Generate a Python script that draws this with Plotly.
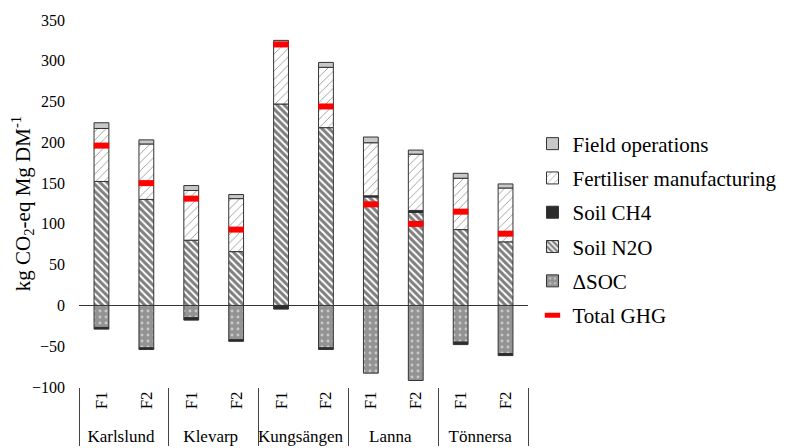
import plotly.graph_objects as go

sites = ["Karlslund", "Karlslund", "Klevarp", "Klevarp", "Kungsängen", "Kungsängen",
         "Lanna", "Lanna", "Tönnersa", "Tönnersa"]
treat = ["F1", "F2"] * 5

field_ops = [7, 5, 6, 5, 5, 6, 7, 5, 6, 5]
fertiliser = [65, 68, 61, 65, 73, 74, 65, 69, 63, 66]
soil_ch4 = [-2, -2, -3, -2, -4, -2, 1.5, 2.5, -3, -2.5]
soil_n2o = [152, 130, 80, 66, 247, 218, 133, 114, 93, 78]
delta_soc = [-27, -52, -15, -42, -0.5, -52, -83, -92, -45, -59]
total_ghg = [196, 150, 131, 93, 320, 244, 124, 100, 115, 88]

x = [sites, treat]
FONT = "Liberation Serif, Times New Roman, serif"
outline = dict(color="#333333", width=1)

fig = go.Figure()
fig.add_trace(go.Bar(x=x, y=delta_soc, name="ΔSOC", legendrank=5,
                     marker=dict(color="#939393", line=outline,
                                 pattern=dict(shape=".", fgcolor="#ffffff", size=6, solidity=0.18))))
fig.add_trace(go.Bar(x=x, y=soil_n2o, name="Soil N2O", legendrank=4,
                     marker=dict(color="#ffffff", line=outline,
                                 pattern=dict(shape="\\", fgcolor="#000000", size=5, solidity=0.6))))
fig.add_trace(go.Bar(x=x, y=soil_ch4, name="Soil CH4", legendrank=3,
                     marker=dict(color="#2b2b2b", line=outline)))
fig.add_trace(go.Bar(x=x, y=fertiliser, name="Fertiliser manufacturing", legendrank=2,
                     marker=dict(color="#ffffff", line=outline,
                                 pattern=dict(shape="/", fgcolor="#333333", size=6, solidity=0.15))))
fig.add_trace(go.Bar(x=x, y=field_ops, name="Field operations", legendrank=1,
                     marker=dict(color="#c8c8c8", line=outline)))
fig.add_trace(go.Scatter(x=x, y=total_ghg, name="Total GHG", mode="markers", legendrank=6,
                         marker=dict(symbol="line-ew", size=11, color="#ff0000",
                                     line=dict(color="#ff0000", width=6))))

for i, tr in enumerate(fig.data):
    tr.legendgroup = "g%d" % i

# the page body has an 8px default margin, so the figure is sized to fit the window
fig.update_layout(
    width=777, height=440,
    margin=dict(l=71, r=257, t=12, b=61, autoexpand=False),
    barmode="relative", bargap=0.67,
    plot_bgcolor="white", paper_bgcolor="white",
    font=dict(family=FONT, size=17, color="black"),
    showlegend=True,
    legend=dict(x=1.01, y=0.718, xanchor="left", yanchor="top",
                font=dict(family=FONT, size=21, color="black"),
                tracegroupgap=4, itemwidth=30, bgcolor="rgba(0,0,0,0)"),
    xaxis=dict(type="multicategory", showline=False, ticks="", tickangle=-90,
               range=[-0.5, 9.5], automargin=False,
               showdividers=True, dividercolor="#444444", dividerwidth=1.2,
               tickfont=dict(family=FONT, size=17, color="black")),
    yaxis=dict(range=[-100, 350], dtick=50, showgrid=False, showline=False,
               zeroline=True, zerolinecolor="#333333", zerolinewidth=1,
               ticks="", ticklabelstandoff=13, automargin=False,
               tickfont=dict(family=FONT, size=16, color="black"),
               title=dict(text="kg CO<sub>2</sub>-eq Mg DM<sup>-1</sup>",
                          font=dict(family=FONT, size=21, color="black"), standoff=4)),
)

fig.write_html("out.html")
